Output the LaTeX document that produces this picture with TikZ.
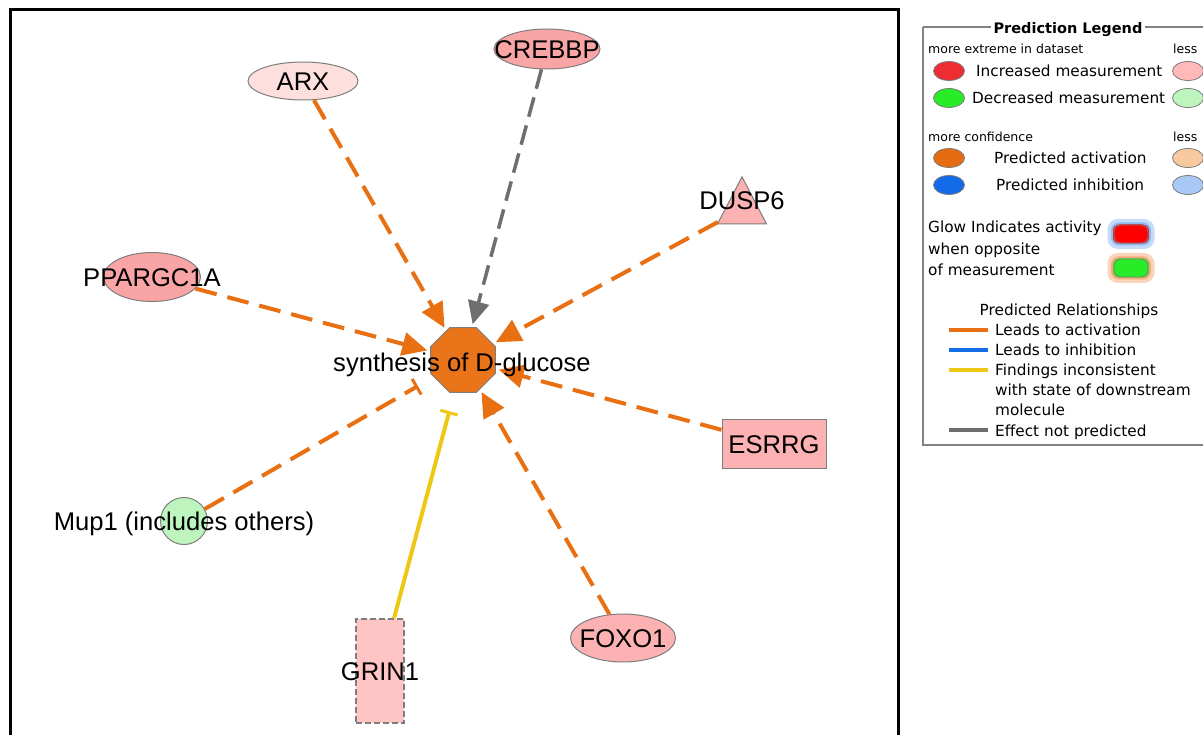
\documentclass[tikz,border=0pt]{standalone}
\usepackage{fontspec}
\setmainfont{Liberation Sans}
\newfontfamily\legfont{DejaVu Sans}
\usetikzlibrary{shapes.geometric,arrows.meta}
\definecolor{actorange}{RGB}{232,112,18}
\definecolor{nodeorange}{RGB}{234,116,26}
\definecolor{molgray}{RGB}{125,125,125}
\definecolor{nopredgray}{RGB}{110,110,110}
\definecolor{inconsyellow}{RGB}{238,200,22}
\definecolor{inhblue}{RGB}{20,110,230}
\definecolor{pinkA}{RGB}{253,224,221}
\definecolor{pinkB}{RGB}{249,165,165}
\definecolor{pinkC}{RGB}{252,178,178}
\definecolor{pinkD}{RGB}{255,196,196}
\definecolor{ltgreen}{RGB}{190,245,190}
\definecolor{legred}{RGB}{238,45,50}
\definecolor{leggreen}{RGB}{40,236,40}
\definecolor{legorange}{RGB}{230,108,18}
\definecolor{legblue}{RGB}{18,106,232}
\definecolor{legltpink}{RGB}{255,185,185}
\definecolor{legltgreen}{RGB}{190,245,190}
\definecolor{legltorange}{RGB}{248,200,160}
\definecolor{legltblue}{RGB}{170,200,245}
\definecolor{glowblue}{RGB}{140,185,240}
\definecolor{gloworange}{RGB}{245,170,120}
\definecolor{legframe}{RGB}{130,130,130}
\begin{document}
\begin{tikzpicture}[x=1pt,y=-1pt,
  shp/.style={draw=molgray, line width=1pt, inner sep=0pt},
  lbl/.style={font=\fontsize{25.6}{25.6}\selectfont, inner sep=0pt, text height=18.3pt, text depth=0pt},
  act/.style={draw=actorange, line width=4pt, dash pattern=on 22pt off 11pt, -{Triangle[length=25pt,width=23pt]}, shorten >=3pt},
  nopred/.style={draw=nopredgray, line width=3.5pt, dash pattern=on 20pt off 9pt, -{Triangle[length=23pt,width=21pt]}, shorten >=3pt},
  actbar/.style={draw=actorange, line width=4pt, dash pattern=on 22pt off 11pt, -{Bar[width=18pt,line width=3pt]}, shorten >=18pt},
  incbar/.style={draw=inconsyellow, line width=4pt, -{Bar[width=18pt,line width=3pt]}, shorten >=19pt},
  legtxt/.style={font=\legfont\fontsize{15.3}{15.3}\selectfont, anchor=west, inner sep=0pt, text height=11pt, text depth=0pt},
  legsmall/.style={font=\legfont\fontsize{12.5}{12.5}\selectfont, anchor=west, inner sep=0pt, text height=9pt, text depth=0pt},
  legell/.style={ellipse, draw=molgray, line width=0.8pt, minimum width=31pt, minimum height=19pt, inner sep=0pt},
  legline/.style={line width=4pt}
]
\useasboundingbox (0,0) rectangle (1203,735);
\clip (0,0) rectangle (1203,735);
\fill[white] (0,0) rectangle (1203,735);

% main frame
\draw[black, line width=3pt] (10,10) rectangle (898,760);

% shapes
\node[shp, regular polygon, regular polygon sides=8, minimum size=70pt, fill=nodeorange] (glc) at (463,360) {};
\node[shp, ellipse, fill=pinkA, minimum width=110pt, minimum height=38pt] (arx) at (303,81) {};
\node[shp, ellipse, fill=pinkB, minimum width=106pt, minimum height=40pt] (crebbp) at (547,49) {};
\node[shp, ellipse, fill=pinkB, minimum width=97pt, minimum height=49pt] (ppar) at (152,277) {};
\node[shp, isosceles triangle, isosceles triangle apex angle=55, shape border rotate=90, minimum height=47pt, fill=pinkC] (dusp) at (742,209) {};
\node[shp, rectangle, fill=pinkC, minimum width=104pt, minimum height=48pt] (esrrg) at (774,444) {};
\node[shp, circle, fill=ltgreen, minimum size=47pt] (mup) at (184,521) {};
\node[shp, ellipse, fill=pinkC, minimum width=105pt, minimum height=48pt] (foxo) at (623,638) {};
\node[shp, rectangle, fill=pinkD, line width=1.3pt, dash pattern=on 6pt off 3pt, minimum width=48pt, minimum height=104pt] (grin) at (380,671) {};

% connectors
\draw[act] (arx) -- (glc);
\draw[act] (ppar) -- (glc);
\draw[act] (dusp) -- (glc);
\draw[act] (esrrg) -- (glc);
\draw[act] (foxo) -- (glc);
\draw[nopred] (crebbp) -- (glc);
\draw[actbar] (mup) -- (glc);
\draw[incbar] (grin) -- (glc);

% labels
\node[lbl] (glcL) at (462,362) {synthesis of D-glucose};
\node[lbl] (arxL) at (303,81) {ARX};
\node[lbl] (crebbpL) at (547,49) {CREBBP};
\node[lbl] (pparL) at (152,277) {PPARGC1A};
\node[lbl] (duspL) at (742,200) {DUSP6};
\node[lbl] (esrrgL) at (774,444) {ESRRG};
\node[lbl] (mupL) at (184,521) {Mup1 (includes others)};
\node[lbl] (foxoL) at (623,638) {FOXO1};
\node[lbl] (grinL) at (380,671) {GRIN1};

% legend
\draw[legframe, line width=1.5pt] (923,27) -- (923,445) -- (1210,445);
\draw[legframe, line width=1.5pt] (923,27) -- (1210,27);
\node[fill=white, inner sep=3pt, font=\legfont\bfseries\fontsize{14.5}{14.5}\selectfont, text height=11pt, text depth=0pt] (legT) at (1068,28) {Prediction Legend};

\node[legsmall] (lg1) at (928,49) {more extreme in dataset};
\node[legsmall] (lg2) at (1173,49) {less};
\node[legell, fill=legred] (e1) at (949,71) {};
\node[legtxt] (t1) at (976,71) {Increased measurement};
\node[legell, fill=legltpink] (e1b) at (1188,71) {};
\node[legell, fill=leggreen] (e2) at (949,98) {};
\node[legtxt] (t2) at (972,98) {Decreased measurement};
\node[legell, fill=legltgreen] (e2b) at (1188,98) {};

\node[legsmall] (lg3) at (928,137) {more confidence};
\node[legsmall] (lg4) at (1173,137) {less};
\node[legell, fill=legorange] (e3) at (949,158) {};
\node[legtxt] (t3) at (994,158) {Predicted activation};
\node[legell, fill=legltorange] (e3b) at (1188,158) {};
\node[legell, fill=legblue] (e4) at (949,185) {};
\node[legtxt] (t4) at (996,185) {Predicted inhibition};
\node[legell, fill=legltblue] (e4b) at (1188,185) {};

\node[legtxt] (g1) at (928,227) {Glow Indicates activity};
\node[legtxt] (g2) at (928,249) {when opposite};
\node[legtxt] (g3) at (928,270) {of measurement};
\node[rounded corners=8pt, minimum width=42pt, minimum height=25pt, inner sep=0pt, draw=glowblue!50, line width=5pt] (gl1) at (1131,234) {};
\node[rounded corners=7pt, minimum width=38pt, minimum height=21pt, inner sep=0pt, draw=glowblue, line width=2pt, fill=red] (gl1i) at (1131,234) {};
\node[rounded corners=7pt, minimum width=34pt, minimum height=18pt, inner sep=0pt, draw=molgray, line width=0.8pt, fill=red] (gl1c) at (1131,234) {};
\node[rounded corners=8pt, minimum width=42pt, minimum height=25pt, inner sep=0pt, draw=gloworange!50, line width=5pt] (gl2) at (1131,268) {};
\node[rounded corners=7pt, minimum width=38pt, minimum height=21pt, inner sep=0pt, draw=gloworange, line width=2pt, fill=leggreen] (gl2i) at (1131,268) {};
\node[rounded corners=7pt, minimum width=34pt, minimum height=18pt, inner sep=0pt, draw=molgray, line width=0.8pt, fill=leggreen] (gl2c) at (1131,268) {};

\node[legtxt, anchor=center] (pr) at (1069,310) {Predicted Relationships};
\coordinate (la1) at (949,330); \coordinate (la2) at (988,330);
\coordinate (lb1) at (949,350); \coordinate (lb2) at (988,350);
\coordinate (lc1) at (949,370); \coordinate (lc2) at (988,370);
\coordinate (ld1) at (949,430); \coordinate (ld2) at (988,430);
\draw[legline, actorange] (la1) -- (la2);
\draw[legline, inhblue] (lb1) -- (lb2);
\draw[legline, inconsyellow] (lc1) -- (lc2);
\draw[legline, nopredgray] (ld1) -- (ld2);
\node[legtxt] (r1) at (995,330) {Leads to activation};
\node[legtxt] (r2) at (995,350) {Leads to inhibition};
\node[legtxt] (r3) at (995,370) {Findings inconsistent};
\node[legtxt] (r4) at (995,390) {with state of downstream};
\node[legtxt] (r5) at (995,410) {molecule};
\node[legtxt] (r6) at (995,431) {Effect not predicted};
\end{tikzpicture}
\end{document}
